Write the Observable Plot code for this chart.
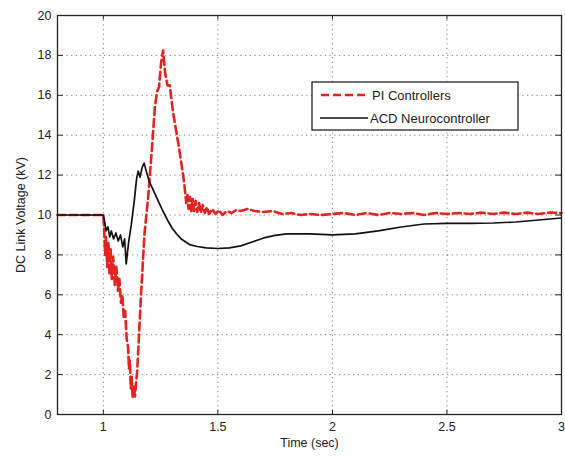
<!DOCTYPE html>
<html><head><meta charset="utf-8">
<script src="https://cdn.jsdelivr.net/npm/d3@7"></script>
<script src="https://cdn.jsdelivr.net/npm/@observablehq/plot@0.6"></script>
<style>
body{margin:0;background:#fff;}
#chart{position:relative;width:565px;height:457px;}
</style>
</head><body><div id="chart"></div>
<script>
const xTicks = [1, 1.5, 2, 2.5, 3];
const yTicks = [0, 2, 4, 6, 8, 10, 12, 14, 16, 18, 20];
const seriesNames = ["PI Controllers", "ACD Neurocontroller"];

const piTime = [0.8,0.9,1.0,1.004,1.008,1.012,1.017,1.022,1.027,1.032,1.037,1.043,1.05,1.057,1.064,1.07,1.077,1.083,1.089,1.095,1.102,1.108,1.112,1.116,1.12,1.124,1.128,1.133,1.138,1.143,1.148,1.155,1.165,1.18,1.195,1.21,1.225,1.235,1.243,1.252,1.261,1.27,1.28,1.29,1.305,1.33,1.352,1.362,1.367,1.372,1.378,1.384,1.39,1.396,1.403,1.41,1.418,1.426,1.434,1.443,1.452,1.462,1.475,1.49,1.505,1.52,1.54,1.56,1.58,1.6,1.63,1.66,1.7,1.74,1.78,1.82,1.86,1.9,1.95,2.0,2.05,2.1,2.15,2.2,2.25,2.3,2.35,2.4,2.45,2.5,2.55,2.6,2.65,2.7,2.75,2.8,2.85,2.9,2.95,3.0];
const piVolt = [10,10,10,9.2,8.0,8.9,7.4,8.6,7.0,8.3,6.8,7.9,6.5,7.4,6.2,6.8,5.6,6.0,4.9,5.2,3.8,3.4,2.3,2.7,1.3,1.9,0.85,1.4,0.9,1.6,2.2,3.8,6.1,9.1,10.8,13.0,15.4,16.2,16.4,17.6,18.25,17.1,16.5,16.5,15.1,13.4,11.7,10.6,11.0,10.3,10.9,10.2,10.8,10.2,10.7,10.15,10.6,10.1,10.5,10.1,10.4,10.05,10.3,10.05,10.25,10.0,10.2,10.1,10.25,10.2,10.3,10.2,10.15,10.2,10.05,10.1,10.0,10.05,10.0,10.05,10.1,10.0,10.1,10.0,10.1,10.05,10.1,10.0,10.1,10.05,10.1,10.05,10.12,10.05,10.12,10.05,10.12,10.05,10.12,10.1];

const acdTime = [0.8,0.9,1.0,1.005,1.012,1.02,1.028,1.035,1.045,1.055,1.065,1.075,1.085,1.093,1.1,1.11,1.122,1.135,1.145,1.152,1.16,1.17,1.178,1.19,1.2,1.22,1.24,1.26,1.28,1.3,1.32,1.34,1.36,1.38,1.41,1.45,1.5,1.55,1.6,1.65,1.7,1.75,1.8,1.9,2.0,2.1,2.2,2.3,2.4,2.5,2.6,2.7,2.8,2.9,3.0];
const acdVolt = [10,10,10,9.7,9.2,9.4,8.9,9.2,8.8,9.1,8.7,9.0,8.4,8.8,7.55,8.6,9.5,10.7,11.8,12.2,11.9,12.4,12.6,12.1,11.7,11.2,10.7,10.2,9.75,9.35,9.05,8.8,8.65,8.5,8.42,8.35,8.32,8.35,8.45,8.65,8.85,8.98,9.05,9.05,9.0,9.05,9.2,9.4,9.55,9.58,9.58,9.6,9.65,9.75,9.85];

const pi = piTime.map((t, i) => ({t, v: piVolt[i]}));
const acd = acdTime.map((t, i) => ({t, v: acdVolt[i]}));

const font = "'Liberation Sans', Arial, sans-serif";
const red = "#e3231f";

const chart = Plot.plot({
  width: 565,
  height: 457,
  marginLeft: 57,
  marginRight: 4,
  marginTop: 15,
  marginBottom: 43,
  style: {fontFamily: font, fontSize: "12.5px", color: "#222", background: "#fff"},
  x: {domain: [0.8, 3]},
  y: {domain: [0, 20]},
  marks: [
    Plot.gridX(xTicks, {stroke: "#444", strokeOpacity: 0.7, strokeDasharray: "1.2,3.5"}),
    Plot.gridY(yTicks, {stroke: "#444", strokeOpacity: 0.7, strokeDasharray: "1.2,3.5"}),
    Plot.ruleX(xTicks, {y1: 0, y2: 0.22, stroke: "#222"}),
    Plot.ruleX(xTicks, {y1: 19.78, y2: 20, stroke: "#222"}),
    Plot.ruleY(yTicks, {x1: 0.8, x2: 0.825, stroke: "#222"}),
    Plot.ruleY(yTicks, {x1: 2.975, x2: 3, stroke: "#222"}),
    Plot.line(pi, {x: "t", y: "v", stroke: red, strokeWidth: 2.6, strokeDasharray: "8,4"}),
    Plot.line(acd, {x: "t", y: "v", stroke: "#111", strokeWidth: 1.7}),
    Plot.frame({stroke: "#222", strokeWidth: 1.3}),
    Plot.axisX(xTicks, {tickSize: 0, tickPadding: 8, label: "Time (sec)", labelAnchor: "center", labelOffset: 32, labelArrow: "none", tickFormat: d => String(d)}),
    Plot.axisY(yTicks, {tickSize: 0, tickPadding: 6, label: "DC Link Voltage (kV)", labelAnchor: "center", labelOffset: 41, labelArrow: "none"})
  ]
});

// Legend inside the plot area (upper right)
const svg = d3.select(chart);
const lg = svg.append("g").attr("font-family", font).attr("font-size", "13px")
  .attr("fill", "#222").attr("text-anchor", "start");
lg.append("rect").attr("x", 312).attr("y", 82).attr("width", 206).attr("height", 48)
  .attr("fill", "#fff").attr("stroke", "#222").attr("stroke-width", 1.3);
lg.append("line").attr("x1", 321).attr("x2", 368).attr("y1", 95).attr("y2", 95)
  .attr("stroke", red).attr("stroke-width", 2.6).attr("stroke-dasharray", "8,4");
lg.append("text").attr("x", 372).attr("y", 99.5).attr("text-anchor", "start").text(seriesNames[0]);
lg.append("line").attr("x1", 320).attr("x2", 368).attr("y1", 118).attr("y2", 118)
  .attr("stroke", "#111").attr("stroke-width", 1.7);
lg.append("text").attr("x", 370).attr("y", 122.5).attr("text-anchor", "start").text(seriesNames[1]);

document.getElementById("chart").appendChild(chart);
</script>
</body></html>
